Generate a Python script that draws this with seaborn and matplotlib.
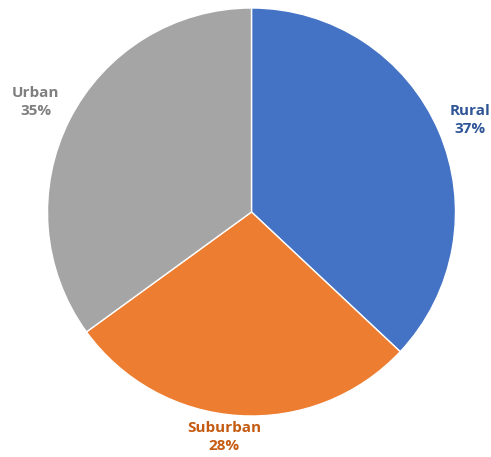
import numpy as np
import matplotlib
matplotlib.use("Agg")
import matplotlib.pyplot as plt
import seaborn as sns

# Share of respondents by area type
categories = ["Rural", "Suburban", "Urban"]
shares = [37, 28, 35]

slice_colors = ["#4472C4", "#ED7D31", "#A5A5A5"]
label_colors = ["#2F5597", "#C55A11", "#7F7F7F"]
# label placement: radial distance and angular nudge (degrees) from slice middle
label_dist = [1.16, 1.11, 1.186]
label_nudge = [-0.6, -3.4, 0.0]

sns.set_theme(style="white")
plt.rcParams["font.family"] = ["Open Sans", "DejaVu Sans"]

W, H = 491, 457
fig = plt.figure(figsize=(W / 100, H / 100), dpi=100)
cx, cy, r = 251.5, 212, 204
ax = fig.add_axes([(cx - r) / W, (H - cy - r) / H, 2 * r / W, 2 * r / H])

wedges, _ = ax.pie(
    shares,
    colors=sns.color_palette(slice_colors),
    startangle=90,
    counterclock=False,
    radius=1,
    wedgeprops=dict(edgecolor="white", linewidth=1.0),
)

for w, name, val, col, d, nd in zip(wedges, categories, shares, label_colors,
                                    label_dist, label_nudge):
    ang = np.deg2rad((w.theta1 + w.theta2) / 2 + nd)
    ax.text(d * np.cos(ang), d * np.sin(ang), f"{name}\n{val}%",
            ha="center", va="center", color=col, fontsize=11,
            fontweight="bold", linespacing=1.4)

ax.set_xlim(-1, 1)
ax.set_ylim(-1, 1)
ax.set_aspect("equal")
ax.axis("off")

fig.savefig("out.png", dpi=100)
